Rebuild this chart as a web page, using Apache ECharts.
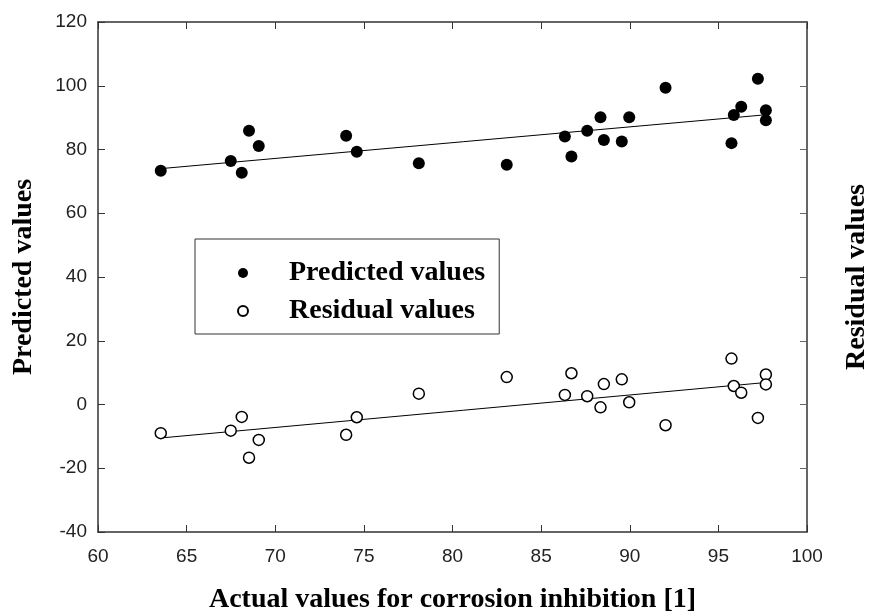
<!DOCTYPE html>
<html>
<head>
<meta charset="utf-8">
<script src="https://cdn.jsdelivr.net/npm/echarts@6/dist/echarts.min.js"></script>
<style>
  html, body { margin: 0; padding: 0; background: #fff; }
  #main { width: 873px; height: 612px; }
</style>
</head>
<body>
<div id="main"></div>
<script>
// actual values (x), shared by both series
var actual = [63.54, 67.49, 68.11, 68.52, 69.07, 74.0, 74.6, 78.1, 83.06, 86.34, 86.71, 87.6,
              88.35, 88.54, 89.55, 89.97, 92.02, 95.74, 95.87, 96.29, 97.23, 97.68, 97.68];
var predicted = [73.3, 76.4, 72.7, 85.9, 81.1, 84.3, 79.3, 75.7, 75.2, 84.1, 77.8, 85.9,
                 90.1, 83.0, 82.5, 90.1, 99.4, 82.0, 90.8, 93.4, 102.2, 92.3, 89.2];
var residual = [-9.0, -8.2, -3.9, -16.7, -11.1, -9.5, -4.0, 3.4, 8.6, 3.0, 9.8, 2.6,
                -0.9, 6.4, 7.9, 0.7, -6.5, 14.4, 5.8, 3.7, -4.2, 9.4, 6.3];
// regression lines, read at their end points
var fitX = [63.54, 97.68];
var fitPredicted = [74.0, 90.9];
var fitResidual = [-10.5, 6.9];

function pairs(xs, ys) {
  var out = [];
  for (var i = 0; i < xs.length; i++) out.push([xs[i], ys[i]]);
  return out;
}

var myChart = echarts.init(document.getElementById('main'));

var serif = '"Liberation Serif", "Times New Roman", serif';
var sans = '"Liberation Sans", Arial, sans-serif';
var axisColor = '#333';

var option = {
  animation: false,
  backgroundColor: '#fff',
  grid: { left: 98, top: 22, right: 66, bottom: 80, containLabel: false, outerBoundsMode: 'none' },
  legend: {
    orient: 'vertical',
    left: 195,
    top: 239,
    padding: [19, 14, 8, 42],
    itemWidth: 10,
    itemHeight: 10,
    itemGap: 8,
    borderColor: '#333',
    borderWidth: 1,
    data: ['Predicted values', 'Residual values'],
    textStyle: {
      fontFamily: serif,
      fontWeight: 'bold',
      fontSize: 28,
      lineHeight: 30,
      color: '#000',
      padding: [0, 0, 0, 36]
    }
  },
  xAxis: [
    {
      type: 'value',
      position: 'bottom',
      min: 60, max: 100, interval: 5,
      name: 'Actual values for corrosion inhibition [1]',
      nameLocation: 'middle',
      nameGap: 54,
      nameTextStyle: { fontFamily: serif, fontWeight: 'bold', fontSize: 28, color: '#000' },
      axisLine: { onZero: false, lineStyle: { color: axisColor, width: 1.5 } },
      axisTick: { inside: true, length: 7, lineStyle: { color: axisColor, width: 1 } },
      axisLabel: { margin: 15, fontFamily: sans, fontSize: 19, color: '#222' },
      splitLine: { show: false }
    },
    {
      type: 'value',
      position: 'top',
      min: 60, max: 100, interval: 5,
      axisLine: { show: true, onZero: false, lineStyle: { color: axisColor, width: 1.5 } },
      axisTick: { show: true, inside: true, length: 7, lineStyle: { color: axisColor, width: 1 } },
      axisLabel: { show: false },
      splitLine: { show: false }
    }
  ],
  yAxis: [
    {
      type: 'value',
      position: 'left',
      min: -40, max: 120, interval: 20,
      name: 'Predicted values',
      nameLocation: 'middle',
      nameRotate: 90,
      nameGap: 60,
      nameTextStyle: { fontFamily: serif, fontWeight: 'bold', fontSize: 28, color: '#000' },
      axisLine: { show: true, onZero: false, lineStyle: { color: axisColor, width: 1.5 } },
      axisTick: { show: true, inside: true, length: 7, lineStyle: { color: axisColor, width: 1 } },
      axisLabel: { margin: 11, fontFamily: sans, fontSize: 19, color: '#222' },
      splitLine: { show: false }
    },
    {
      type: 'value',
      position: 'right',
      min: -40, max: 120, interval: 20,
      name: 'Residual values',
      nameLocation: 'middle',
      nameRotate: 90,
      nameGap: 36,
      nameTextStyle: { fontFamily: serif, fontWeight: 'bold', fontSize: 28, color: '#000' },
      axisLine: { show: true, onZero: false, lineStyle: { color: axisColor, width: 1.5 } },
      axisTick: { show: true, inside: true, length: 7, lineStyle: { color: '#666', width: 1 } },
      axisLabel: { show: false },
      splitLine: { show: false }
    }
  ],
  series: [
    {
      name: 'fit predicted',
      type: 'line',
      data: pairs(fitX, fitPredicted),
      symbol: 'none',
      lineStyle: { color: '#000', width: 1 },
      z: 1
    },
    {
      name: 'fit residual',
      type: 'line',
      data: pairs(fitX, fitResidual),
      symbol: 'none',
      lineStyle: { color: '#000', width: 1 },
      z: 1
    },
    {
      name: 'Predicted values',
      type: 'scatter',
      data: pairs(actual, predicted),
      symbol: 'circle',
      symbolSize: 12,
      itemStyle: { color: '#000', opacity: 1 },
      z: 3
    },
    {
      name: 'Residual values',
      type: 'scatter',
      data: pairs(actual, residual),
      symbol: 'circle',
      symbolSize: 11,
      itemStyle: { color: '#fff', borderColor: '#000', borderWidth: 1.5, opacity: 1 },
      z: 3
    }
  ]
};
myChart.setOption(option);
</script>
</body>
</html>
